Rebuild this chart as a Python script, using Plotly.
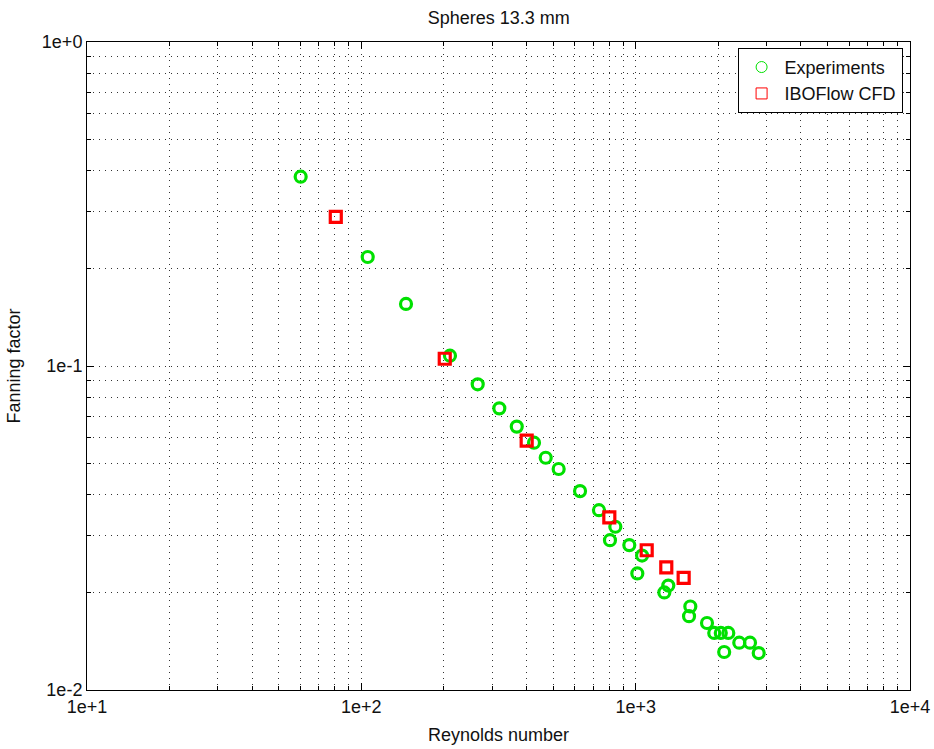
import plotly.graph_objects as go

# Experiments (green circles)
exp_re = [60.1, 105.5, 145.5, 210.4, 265.6, 318.4, 368.6, 426, 470, 524, 627, 735, 843, 806,
          948, 1055, 1014, 1315, 1272, 1582, 1565, 1820, 1934, 2043, 2176, 2102, 2386, 2611, 2809]
exp_f = [0.384, 0.217, 0.1554, 0.1076, 0.0878, 0.0740, 0.0650, 0.0580, 0.0521, 0.0481, 0.0411,
         0.0359, 0.0319, 0.0290, 0.0280, 0.0260, 0.0229, 0.0210, 0.0200, 0.0181, 0.0169, 0.0161,
         0.0150, 0.0150, 0.0150, 0.0131, 0.0140, 0.0140, 0.0130]

# IBOFlow CFD (red squares)
cfd_re = [80.7, 201.4, 400.6, 801.6, 1097, 1293, 1496]
cfd_f = [0.2884, 0.1053, 0.0588, 0.0341, 0.0270, 0.0239, 0.0222]

x_tickvals = [10, 100, 1000, 10000]
x_ticktext = ["1e+1", "1e+2", "1e+3", "1e+4"]
y_tickvals = [0.01, 0.1, 1]
y_ticktext = ["1e-2", "1e-1", "1e+0"]
x_minor = [m * 10 ** e for e in (1, 2, 3) for m in range(2, 10)]
y_minor = [m * 10 ** e for e in (-2, -1) for m in range(2, 10)]

FONT = "Liberation Sans, Arial, sans-serif"
GREEN = "#00e000"
RED = "#ff0000"
GRID = "#333"
DASH = "1px,5px"

fig = go.Figure()
fig.add_trace(go.Scatter(x=exp_re, y=exp_f, mode="markers", showlegend=False,
                         marker=dict(symbol="circle-open", size=11, color=GREEN,
                                     line=dict(width=3.2, color=GREEN))))
fig.add_trace(go.Scatter(x=cfd_re, y=cfd_f, mode="markers", showlegend=False,
                         marker=dict(symbol="square-open", size=11, color=RED,
                                     line=dict(width=3.2, color=RED))))
# legend entries (thin markers as in the reference)
fig.add_trace(go.Scatter(x=[None], y=[None], mode="markers", name="Experiments",
                         marker=dict(symbol="circle-open", size=11, color=GREEN,
                                     line=dict(width=1, color=GREEN))))
fig.add_trace(go.Scatter(x=[None], y=[None], mode="markers", name="IBOFlow CFD",
                         marker=dict(symbol="square-open", size=11, color=RED,
                                     line=dict(width=1, color=RED))))

def axis_common(minor_vals):
    return dict(
        automargin=False,
        showline=True, linecolor="black", linewidth=1, mirror="allticks",
        ticks="inside", ticklen=7, tickcolor="black",
        showgrid=True, gridcolor=GRID, gridwidth=1, griddash=DASH,
        zeroline=False,
        tickfont=dict(family=FONT, size=18, color="#111"),
        title_font=dict(family=FONT, size=18, color="#111"),
        minor=dict(tickmode="array", tickvals=minor_vals, ticks="inside", ticklen=4,
                   tickcolor="black", showgrid=True, gridcolor=GRID, gridwidth=1,
                   griddash=DASH),
    )

fig.update_xaxes(type="log", range=[1, 4], tickvals=x_tickvals, ticktext=x_ticktext,
                 title_text="Reynolds number", title_standoff=12, **axis_common(x_minor))
fig.update_yaxes(type="log", range=[-2, 0], tickvals=y_tickvals, ticktext=y_ticktext,
                 title_text="Fanning factor", title_standoff=16, **axis_common(y_minor))

fig.update_layout(
    width=934, height=749,
    margin=dict(l=87, r=24, t=42, b=59),
    paper_bgcolor="white", plot_bgcolor="white",
    title=dict(text="Spheres 13.3 mm", x=0.534, xanchor="center", y=0.977, yanchor="middle",
               font=dict(family=FONT, size=18, color="#111")),
    legend=dict(x=0.991, y=0.991, xanchor="right", yanchor="top",
                bgcolor="white", bordercolor="black", borderwidth=1,
                font=dict(family=FONT, size=18, color="#111"),
                itemwidth=36, tracegroupgap=10),
    showlegend=True,
)

fig.write_html("out.html")
